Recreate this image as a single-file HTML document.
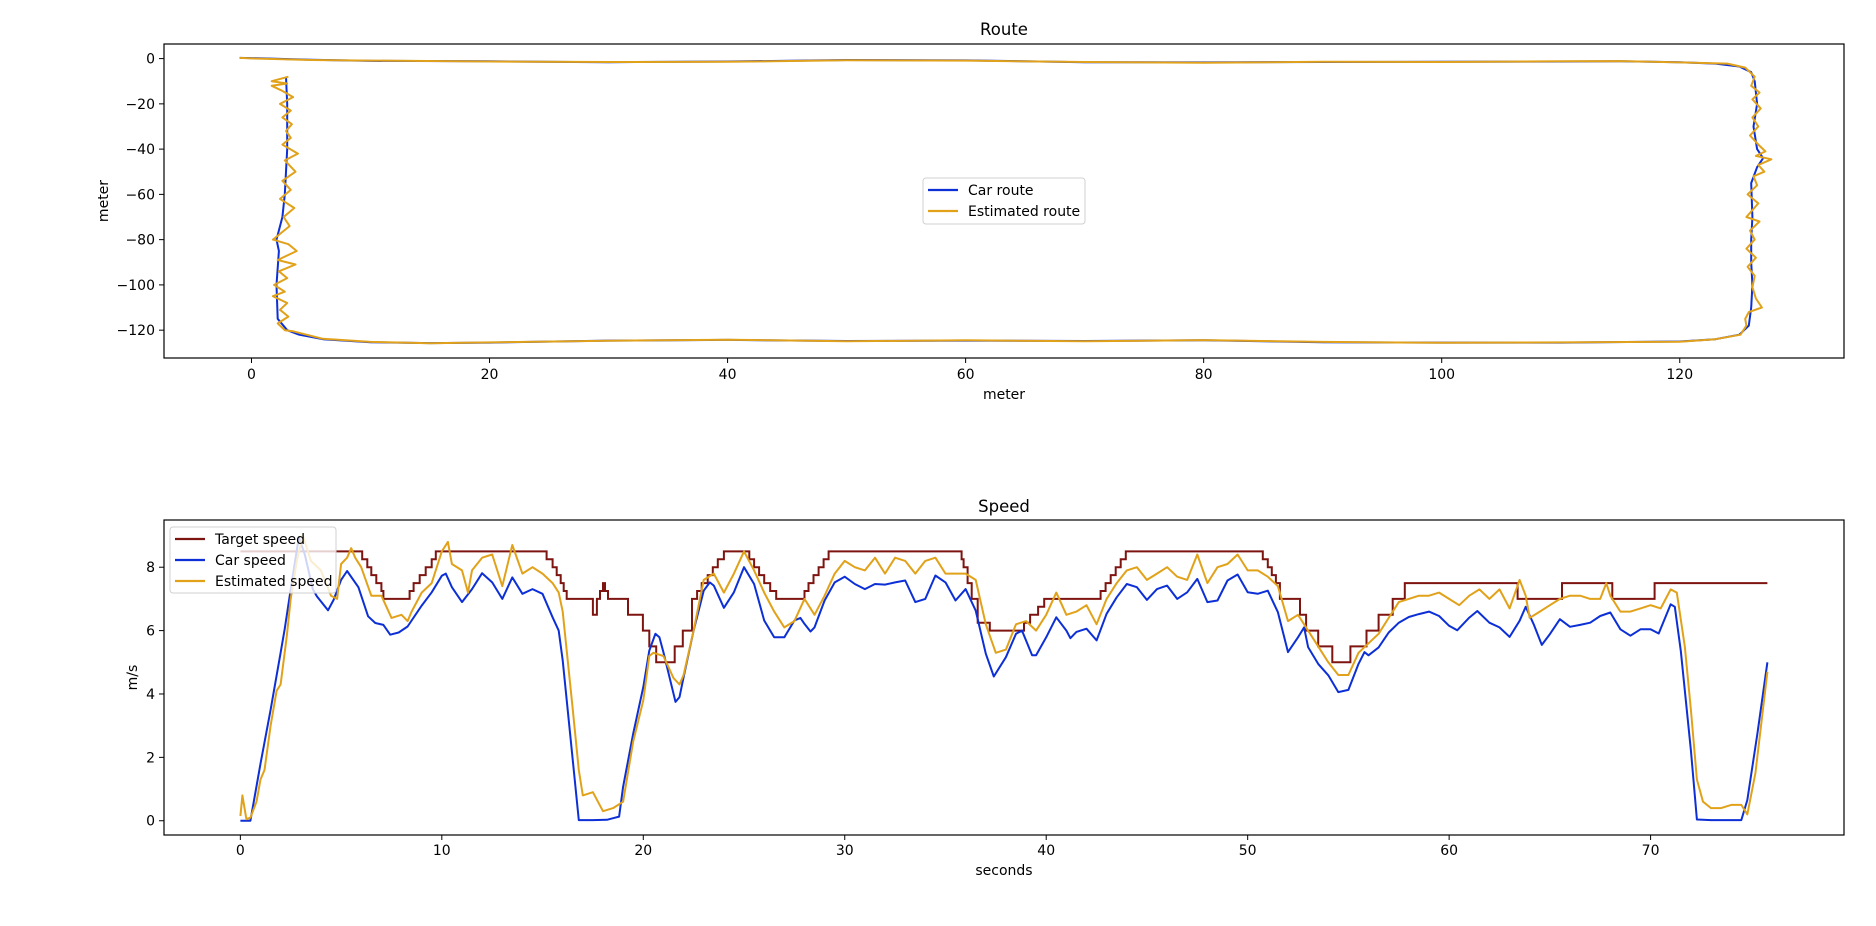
<!DOCTYPE html>
<html><head><meta charset="utf-8">
<style>
html,body{margin:0;padding:0;background:#fff;}
svg{display:block;font-family:"DejaVu Sans","Liberation Sans",sans-serif;}
</style></head>
<body>
<svg id="fig" width="1876" height="926" viewBox="0 0 1876 926" xmlns="http://www.w3.org/2000/svg">
<rect x="0" y="0" width="1876" height="926" fill="#fff"/>
<g id="route"></g>
<g id="speed"></g>
</svg>
<script>
// ---------- Route data ----------
const carRouteX = [-1,0,5,10,20,30,40,50,60,70,80,90,100,110,115,120,123,125,126,126.3,126.5,126.2,126.5,127,126.5,126,126.1,126,126,126.1,126,125.8,125,123,120,110,100,90,80,70,60,50,40,30,20,15,10,6,4,3,2.2,2.1,2.3,2.1,2.6,2.8,3,3,2.9];
const carRouteY = [0.3,0.2,-0.5,-1.0,-1.2,-1.6,-1.3,-0.6,-0.8,-1.6,-1.7,-1.5,-1.4,-1.3,-1.2,-1.6,-2.2,-3.5,-6,-10,-20,-30,-40,-44,-48,-55,-70,-80,-90,-100,-110,-118,-122,-124,-125,-125.5,-125.5,-125.3,-124.5,-124.8,-124.6,-124.8,-124.3,-124.6,-125.5,-125.7,-125.3,-124,-122,-120,-115,-100,-85,-80,-70,-60,-40,-20,-8];
const estRouteX = [-1,0,5,10,20,30,40,50,60,70,80,90,100,110,115,120,124,125.5,126.3,126.0,126.7,126.1,126.8,126.1,126.6,125.9,126.6,127.2,126.4,127.7,126.6,127.1,126.2,126.5,125.7,126.6,125.6,126.7,125.9,126.3,125.6,126.4,125.7,126.3,126.1,126.4,126.9,125.8,125.5,125.6,125.1,123,120,110,100,90,80,70,60,50,40,30,20,15,10,6,3.5,2.8,2.2,3.1,2.4,3.0,1.8,2.8,1.9,3.0,2.3,3.7,2.2,3.8,3.1,1.8,3.2,2.7,3.6,2.4,3.3,2.6,3.7,2.8,3.9,2.6,3.3,2.9,3.4,2.6,3.3,2.4,3.5,2.5,1.7,3.0,1.7,3.1];
const estRouteY = [0.3,0.1,-0.6,-0.9,-1.3,-1.5,-1.4,-0.7,-0.9,-1.5,-1.8,-1.4,-1.5,-1.2,-1.1,-1.7,-2.2,-4,-8,-12,-15,-18,-22,-26,-30,-34,-38,-41,-43,-44.5,-47,-50,-52,-56,-60,-64,-70,-72,-76,-80,-84,-88,-92,-96,-101,-106,-110,-112,-115,-118,-122,-124,-125.1,-125.4,-125.6,-125.2,-124.4,-124.9,-124.5,-124.9,-124.2,-124.7,-125.4,-125.8,-125.2,-123.8,-120.5,-120,-117,-114,-111,-108,-105,-103,-100,-97,-94,-91,-89,-85,-82,-80,-74,-70,-66,-62,-58,-54,-50,-45,-42,-38,-35,-32,-29,-26,-23,-20,-17,-14,-12,-11,-10,-8];
const routeXTicks = [0,20,40,60,80,100,120];
const routeYTicks = [0,-20,-40,-60,-80,-100,-120];

// ---------- Speed data ----------
const carT = [0,0.5,1,1.5,2,2.2,2.5,2.9,3.2,3.6,3.8,4.35,4.63,5.0,5.3,5.86,6.34,6.7,7.1,7.44,7.86,8.3,9,9.5,10,10.2,10.5,11,11.5,12,12.5,13,13.5,14,14.5,15,15.5,15.8,16,16.5,16.8,17.5,18.2,18.5,18.8,19,19.5,20,20.3,20.6,20.8,21,21.3,21.6,21.8,22,22.5,23,23.3,23.5,24,24.5,25,25.5,26,26.5,27,27.5,27.8,28,28.3,28.5,29,29.5,30,30.5,31,31.5,32,32.5,33,33.5,34,34.5,35,35.5,36,36.5,37,37.4,38,38.5,38.8,39.3,39.5,40,40.5,41,41.2,41.5,42,42.5,43,43.5,44,44.5,45,45.5,46,46.5,47,47.5,48,48.5,49,49.5,50,50.5,51,51.5,52,52.5,52.8,53,53.5,54,54.5,55,55.5,55.8,56,56.5,57,57.5,58,58.5,59,59.5,60,60.4,61,61.4,62,62.5,63,63.5,63.8,64.2,64.6,65,65.5,66,66.5,67,67.5,68,68.5,69,69.5,70,70.4,71,71.2,71.5,72,72.3,73,74.5,74.8,75.3,75.8];
const carV = [0,0,1.8,3.5,5.3,6.05,7.3,8.95,8.4,7.3,7.08,6.64,6.97,7.6,7.88,7.37,6.45,6.24,6.18,5.87,5.94,6.13,6.79,7.21,7.73,7.8,7.37,6.9,7.31,7.81,7.52,7.0,7.68,7.16,7.31,7.16,6.42,6.0,5.06,1.9,0.02,0.02,0.03,0.08,0.13,1.07,2.75,4.22,5.37,5.9,5.79,5.32,4.53,3.75,3.9,4.53,6.0,7.26,7.52,7.42,6.72,7.21,8.0,7.47,6.32,5.79,5.79,6.32,6.4,6.21,5.97,6.1,6.95,7.52,7.7,7.47,7.31,7.47,7.45,7.52,7.58,6.9,7.0,7.74,7.52,6.95,7.31,6.63,5.27,4.55,5.16,5.9,6.0,5.22,5.22,5.79,6.42,6.0,5.76,5.96,6.06,5.69,6.53,7.05,7.47,7.37,6.97,7.31,7.42,7.0,7.21,7.63,6.9,6.95,7.58,7.77,7.21,7.16,7.26,6.58,5.32,5.79,6.1,5.48,4.95,4.59,4.06,4.13,4.95,5.32,5.22,5.47,5.94,6.25,6.43,6.52,6.6,6.46,6.15,6.01,6.41,6.62,6.25,6.1,5.8,6.31,6.75,6.2,5.55,5.89,6.36,6.12,6.18,6.25,6.46,6.57,6.04,5.84,6.04,6.04,5.91,6.83,6.75,5.36,2.22,0.04,0.02,0.02,0.65,2.75,5.0];
const estT = [0,0.1,0.3,0.5,0.8,1.0,1.2,1.5,1.8,2.0,2.3,2.5,2.8,3.1,3.5,4.0,4.5,4.8,5.0,5.3,5.5,5.7,6.0,6.5,7.0,7.5,8.0,8.3,8.5,9.0,9.5,10,10.3,10.5,11,11.3,11.5,12,12.5,13,13.5,14,14.5,15,15.5,15.8,16,16.5,16.8,17,17.5,18,18.5,19,19.5,20,20.3,20.5,21,21.5,21.8,22,22.5,23,23.5,24,24.5,25,25.5,26,26.5,27,27.5,28,28.5,29,29.5,30,30.5,31,31.5,32,32.5,33,33.5,34,34.5,35,35.5,36,36.5,37,37.5,38,38.5,39,39.5,40,40.5,41,41.5,42,42.5,43,43.5,44,44.5,45,45.5,46,46.5,47,47.5,48,48.5,49,49.5,50,50.5,51,51.5,52,52.5,53,53.5,54,54.5,55,55.5,56,56.5,57,57.5,58,58.5,59,59.5,60,60.5,61,61.5,62,62.5,63,63.5,63.8,64,64.5,65,65.5,66,66.5,67,67.5,67.8,68,68.5,69,69.5,70,70.5,71,71.3,71.7,72,72.3,72.6,73,73.5,74,74.5,74.8,75.2,75.8];
const estV = [0.15,0.8,0.05,0.1,0.6,1.3,1.6,3.0,4.1,4.3,5.8,7.0,8.2,9.0,8.2,7.9,7.1,7.0,8.1,8.3,8.6,8.3,8.0,7.1,7.1,6.4,6.5,6.3,6.6,7.2,7.5,8.5,8.8,8.1,7.9,7.2,7.9,8.3,8.4,7.4,8.7,7.8,8.0,7.8,7.5,7.2,6.6,3.5,1.6,0.8,0.9,0.3,0.4,0.6,2.5,3.8,5.2,5.3,5.2,4.5,4.3,4.6,6.0,7.6,7.8,7.2,7.8,8.5,7.9,7.2,6.6,6.1,6.3,7.0,6.5,7.1,7.8,8.2,8.0,7.9,8.3,7.8,8.3,8.2,7.8,8.2,8.3,7.8,7.8,7.8,7.6,6.2,5.3,5.4,6.2,6.3,6.0,6.5,7.2,6.5,6.6,6.8,6.2,7.0,7.5,7.9,8.0,7.6,7.8,8.0,7.7,7.6,8.4,7.5,8.0,8.1,8.4,7.9,7.9,7.7,7.4,6.3,6.5,6.0,5.5,5.0,4.6,4.6,5.3,5.6,5.9,6.4,6.9,7.0,7.1,7.1,7.2,7.0,6.8,7.1,7.3,7.0,7.3,6.7,7.6,7.1,6.4,6.6,6.8,7.0,7.1,7.1,7.0,7.0,7.5,7.1,6.6,6.6,6.7,6.8,6.7,7.3,7.2,5.5,3.5,1.3,0.6,0.4,0.4,0.5,0.5,0.2,1.5,4.7];
const targetT = [0,6.05,6.3,6.5,6.75,7.0,7.1,8.4,8.6,8.9,9.2,9.5,9.7,15.2,15.5,15.7,15.9,16.05,16.2,17.5,17.7,17.85,18.0,18.1,18.25,19.24,19.98,20.3,20.64,21.56,21.96,22.42,22.67,22.9,23.2,23.45,23.7,24.0,25.26,25.5,25.75,26.0,26.3,26.6,28.0,28.2,28.45,28.7,28.95,29.2,29.5,35.8,35.9,36.1,36.3,36.6,37.2,38.9,39.2,39.6,39.9,40.2,42.7,42.95,43.2,43.45,43.7,43.95,44.1,50.75,51.0,51.2,51.4,51.6,52.6,52.9,53.5,54.2,55.1,55.9,56.5,57.2,57.8,63.4,65.6,68.1,70.2,75.8];
const targetV = [8.5,8.25,8.0,7.75,7.5,7.25,7.0,7.25,7.5,7.75,8.0,8.25,8.5,8.25,8.0,7.75,7.5,7.25,7.0,6.5,7.0,7.25,7.5,7.25,7.0,6.5,6.0,5.5,5.0,5.5,6.0,7.0,7.25,7.5,7.75,8.0,8.25,8.5,8.25,8.0,7.75,7.5,7.25,7.0,7.25,7.5,7.75,8.0,8.25,8.5,8.5,8.25,8.0,7.5,7.0,6.25,6.0,6.25,6.5,6.75,7.0,7.0,7.25,7.5,7.75,8.0,8.25,8.5,8.5,8.25,8.0,7.75,7.5,7.0,6.5,6.0,5.5,5.0,5.5,6.0,6.5,7.0,7.5,7.0,7.5,7.0,7.5,7.5];
const speedXTicks = [0,10,20,30,40,50,60,70];
const speedYTicks = [0,2,4,6,8];

const NS = 'http://www.w3.org/2000/svg';
function mk(tag, attrs, parent){
  const e = document.createElementNS(NS, tag);
  for (const k in attrs) e.setAttribute(k, attrs[k]);
  parent.appendChild(e); return e;
}
function lin(d0,d1,r0,r1){ return v => r0 + (v-d0)*(r1-r0)/(d1-d0); }
function fmt(v){ return v<0 ? '\u2212'+Math.abs(v) : String(v); }
const BLUE='#0c2fd6', ORANGE='#e1a21a', RED='#7e1410';

function axesFrame(g, L, T, R, B){
  const r = mk('rect',{x:L,y:T,width:R-L,height:B-T,fill:'none',stroke:'#000','stroke-width':1.2},g);
  
  
}
function ticks(g, xs, ys, sx, sy, L, B, xLabelY){
  xs.forEach(v=>{
    const x = sx(v);
    const t = mk('line',{x1:x,x2:x,y1:B,y2:B+5,stroke:'#000','stroke-width':1},g);
    
    
    const tx = mk('text',{x:x,y:xLabelY,'font-size':14,'text-anchor':'middle',fill:'#000'},g);
    tx.textContent = fmt(v);
    
    
  });
  ys.forEach(v=>{
    const y = sy(v);
    const t = mk('line',{x1:L-5,x2:L,y1:y,y2:y,stroke:'#000','stroke-width':1},g);
    
    
    const tx = mk('text',{x:L-9,y:y+5,'font-size':14,'text-anchor':'end',fill:'#000'},g);
    tx.textContent = fmt(v);
    
    
  });
}
function pathOf(xs, ys, sx, sy){
  return xs.map((v,i)=>(i?'L':'M')+sx(v).toFixed(1)+','+sy(ys[i]).toFixed(1)).join('');
}
function stepPath(xs, ys, sx, sy){
  let d='M'+sx(xs[0]).toFixed(1)+','+sy(ys[0]).toFixed(1);
  for(let i=1;i<xs.length;i++){
    d+='L'+sx(xs[i]).toFixed(1)+','+sy(ys[i-1]).toFixed(1);
    d+='L'+sx(xs[i]).toFixed(1)+','+sy(ys[i]).toFixed(1);
  }
  return d;
}
function text(g, x, y, s, size, anchor, name, rot){
  const t = mk('text',{x:x,y:y,'font-size':size,'text-anchor':anchor,fill:'#000'},g);
  if (rot) t.setAttribute('transform','rotate(-90 '+x+' '+y+')');
  t.textContent = s;
  
  
  return t;
}
function legend(g, x, y, w, h, items){
  const box = mk('rect',{x:x,y:y,width:w,height:h,rx:3,fill:'#fff','fill-opacity':0.8,stroke:'#d0d0d0','stroke-width':1},g);
  
  
  items.forEach((it,i)=>{
    const cy = y+12+i*21;
    const l = mk('line',{x1:x+5,x2:x+35,y1:cy,y2:cy,stroke:it[1],'stroke-width':2.2},g);
    
    
    text(g, x+45, cy+5, it[0], 14, 'start', 'legend-entry');
  });
}

// ---------- Route chart ----------
(function(){
  const g = document.getElementById('route');
  const L=164,R=1844,T=44,B=358;
  const sx = lin(-7.35,133.8,L,R), sy = lin(6.45,-132.3,T,B);
  text(g, (L+R)/2, 35, 'Route', 16.5, 'middle', 'route-title');
  const p1 = mk('path',{d:pathOf(carRouteX,carRouteY,sx,sy),fill:'none',stroke:BLUE,'stroke-width':2,'stroke-linejoin':'round'},g);
  
  
  const p2 = mk('path',{d:pathOf(estRouteX,estRouteY,sx,sy),fill:'none',stroke:ORANGE,'stroke-width':2,'stroke-linejoin':'round'},g);
  
  
  axesFrame(g,L,T,R,B);
  ticks(g, routeXTicks, routeYTicks, sx, sy, L, B, 379);
  text(g, (L+R)/2, 399, 'meter', 14, 'middle', 'x-axis-title');
  text(g, 108, (T+B)/2, 'meter', 14, 'middle', 'y-axis-title', true);
  legend(g, 923, 178, 162, 46, [['Car route',BLUE],['Estimated route',ORANGE]]);
})();

// ---------- Speed chart ----------
(function(){
  const g = document.getElementById('speed');
  const L=164,R=1844,T=520,B=835;
  const sx = lin(-3.79,79.6,L,R), sy = lin(-0.45,9.49,B,T);
  text(g, (L+R)/2, 512, 'Speed', 16.5, 'middle', 'speed-title');
  const p0 = mk('path',{d:stepPath(targetT,targetV,sx,sy),fill:'none',stroke:RED,'stroke-width':2,'stroke-linejoin':'miter'},g);
  
  
  const p1 = mk('path',{d:pathOf(carT,carV,sx,sy),fill:'none',stroke:BLUE,'stroke-width':2,'stroke-linejoin':'round'},g);
  
  
  const p2 = mk('path',{d:pathOf(estT,estV,sx,sy),fill:'none',stroke:ORANGE,'stroke-width':2,'stroke-linejoin':'round'},g);
  
  
  axesFrame(g,L,T,R,B);
  ticks(g, speedXTicks, speedYTicks, sx, sy, L, B, 855);
  text(g, (L+R)/2, 875, 'seconds', 14, 'middle', 'x-axis-title');
  text(g, 137, (T+B)/2, 'm/s', 14, 'middle', 'y-axis-title', true);
  legend(g, 170, 527, 166, 66, [['Target speed',RED],['Car speed',BLUE],['Estimated speed',ORANGE]]);
})();
</script>
</body></html>
